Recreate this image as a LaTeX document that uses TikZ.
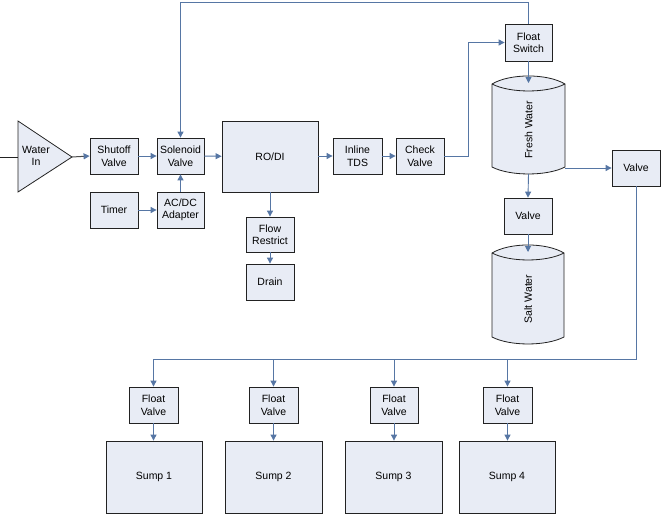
\documentclass[tikz,border=0pt]{standalone}
\usepackage{fontspec}
\setmainfont{Liberation Sans}
\usetikzlibrary{arrows.meta}
\definecolor{boxfill}{HTML}{E8ECF5}
\definecolor{boxline}{HTML}{222222}
\definecolor{connc}{HTML}{5676A4}
\begin{document}
\begin{tikzpicture}[x=1pt,y=-1pt,
  every node/.style={font=\fontsize{10.5}{12.5}\selectfont, text=black},
  blk/.style={draw=boxline, fill=boxfill, line width=0.8pt, align=center, inner sep=0pt},
  conn/.style={draw=connc, line width=0.9pt},
  arr/.style={conn, -{Triangle[length=6pt,width=6pt]}},
  darr/.style={draw=boxline!80, line width=1pt, -{Triangle[length=6pt,width=6pt,color=connc]}},
  cyl/.style={draw=boxline, fill=boxfill, line width=0.8pt}
]
\fill[white] (0,0) rectangle (661,514);
\useasboundingbox (0,0) rectangle (661,514);

% Water In triangle
\coordinate (src) at (0,157);
\coordinate (wleft) at (18,157);
\coordinate (wapex) at (72,157);
\draw[blk] (18,121) -- (wapex) -- (18,192) -- cycle;
\node[align=center] (win) at (36,156) {Water\\In};

% boxes
\node[blk, minimum width=48pt, minimum height=36pt] (shut) at (114,156) {Shutoff\\Valve};
\node[blk, minimum width=47pt, minimum height=36pt] (sol) at (180.5,156) {Solenoid\\Valve};
\node[blk, minimum width=48pt, minimum height=36pt] (timer) at (114,210) {Timer};
\node[blk, minimum width=47pt, minimum height=36pt] (adapt) at (180.5,210) {AC/DC\\Adapter};
\node[blk, minimum width=96pt, minimum height=71pt] (rodi) at (270,156.5) {RO/DI};
\node[blk, minimum width=49pt, minimum height=36pt] (tds) at (357.5,156) {Inline\\TDS};
\node[blk, minimum width=48pt, minimum height=36pt] (check) at (420,156) {Check\\Valve};
\node[blk, minimum width=47pt, minimum height=37pt] (fsw) at (528.5,42.5) {Float\\Switch};
\node[blk, minimum width=48pt, minimum height=35pt] (flow) at (270,234.5) {Flow\\Restrict};
\node[blk, minimum width=48pt, minimum height=36pt] (drain) at (270,282) {Drain};
\node[blk, minimum width=48pt, minimum height=36pt] (valveR) at (636,168) {Valve};
\node[blk, minimum width=48pt, minimum height=36pt] (valveM) at (528,216) {Valve};

\node[blk, minimum width=49pt, minimum height=36pt] (fv1) at (153.5,405) {Float\\Valve};
\node[blk, minimum width=49pt, minimum height=36pt] (fv2) at (273.5,405) {Float\\Valve};
\node[blk, minimum width=48pt, minimum height=36pt] (fv3) at (394,405) {Float\\Valve};
\node[blk, minimum width=49pt, minimum height=36pt] (fv4) at (507.5,405) {Float\\Valve};

\node[blk, minimum width=96pt, minimum height=72pt] (s1) at (154,477) {Sump 1};
\node[blk, minimum width=97pt, minimum height=72pt] (s2) at (273.5,477) {Sump 2};
\node[blk, minimum width=97pt, minimum height=72pt] (s3) at (393.5,477) {Sump 3};
\node[blk, minimum width=96pt, minimum height=72pt] (s4) at (507,477) {Sump 4};

% Fresh Water cylinder
\draw[cyl] (492,84) .. controls (510,73.3) and (547,73.3) .. (565,84)
  -- (565,167) .. controls (547,176.3) and (510,176.3) .. (492,167) -- cycle;
\draw[boxline, line width=0.8pt] (492,84) .. controls (510,93.3) and (547,93.3) .. (565,84);
\node[rotate=90] (freshlbl) at (528.5,130) {Fresh Water};
\coordinate (freshtop) at (528.5,83);
\coordinate (freshbot) at (528.5,174);
\coordinate (freshright) at (565,168);

% Salt Water cylinder
\draw[cyl] (492,253) .. controls (510,242.3) and (546,242.3) .. (564,253)
  -- (564,337) .. controls (546,346.3) and (510,346.3) .. (492,337) -- cycle;
\draw[boxline, line width=0.8pt] (492,253) .. controls (510,262.3) and (546,262.3) .. (564,253);
\node[rotate=90] (saltlbl) at (528,299) {Salt Water};
\coordinate (salttop) at (528,252);

% connectors
\draw[draw=boxline, line width=1pt] (src) -- (wleft);
\draw[darr] (wapex) -- (shut.west);
\draw[arr] (shut) -- (sol);
\draw[arr] (sol) -- (rodi);
\draw[arr] (timer) -- (adapt);
\draw[arr] (adapt) -- (sol);
\draw[arr] (rodi.east |- tds) -- (tds);
\draw[arr] (tds) -- (check);
\coordinate (topR) at (528.5,2);
\coordinate (topL) at (180.5,2);
\draw[arr] (fsw.north) -- (topR) -- (topL) -- (sol.north);
\coordinate (ckturn) at (468,156);
\draw[arr] (check.east) -- (ckturn) |- (fsw.west);
\draw[arr] (rodi.south -| flow) -- (flow.north);
\draw[arr] (flow) -- (drain);
\draw[arr] (fsw.south) -- (freshtop);
\draw[arr] (freshbot) -- (valveM.north);
\draw[arr] (valveM.south) -- (salttop);
\draw[arr] (freshright) -- (valveR.west |- freshright);
\coordinate (busR) at (636,359);
\coordinate (busL) at (153.5,359);
\draw[conn] (valveR.south) -- (busR) -- (busL);
\draw[arr] (busL) -- (fv1.north);
\draw[arr] (fv2.north |- busR) -- (fv2.north);
\draw[arr] (fv3.north |- busR) -- (fv3.north);
\draw[arr] (fv4.north |- busR) -- (fv4.north);
\draw[arr] (fv1) -- (s1.north -| fv1);
\draw[arr] (fv2) -- (s2.north -| fv2);
\draw[arr] (fv3) -- (s3.north -| fv3);
\draw[arr] (fv4) -- (s4.north -| fv4);
\end{tikzpicture}
\end{document}
